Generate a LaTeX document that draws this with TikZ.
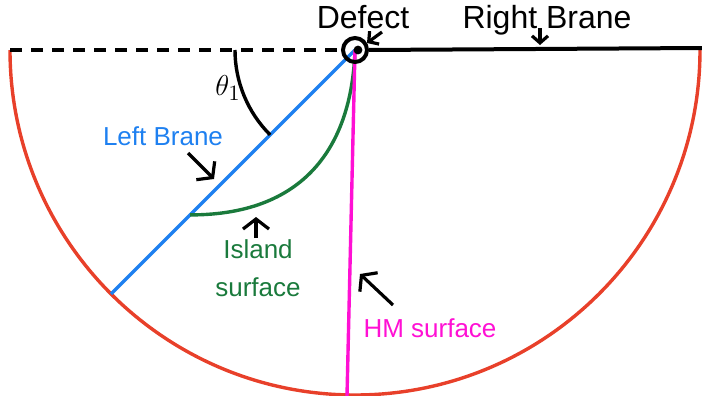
\documentclass[tikz,border=0pt]{standalone}
\usepackage{fontspec}
\setmainfont{Liberation Sans}
\usetikzlibrary{arrows.meta, calc}
\definecolor{BoundaryRed}{HTML}{E8402A}
\definecolor{BraneBlue}{HTML}{1E80F0}
\definecolor{IslandGreen}{HTML}{1A7A3C}
\definecolor{HMMagenta}{HTML}{FF10D4}

\begin{document}
\begin{tikzpicture}[x=0.5pt, y=0.5pt, line width=1.7pt,
    pointer/.style={-{Straight Barb[length=5pt, width=13pt]}, line width=1.6pt, black},
    smallpointer/.style={-{Straight Barb[length=3.5pt, width=8pt]}, line width=1.6pt, black},
    biglabel/.style={font=\fontsize{16}{19}\selectfont, anchor=base},
    smalllabel/.style={font=\fontsize{13}{19}\selectfont, anchor=base, align=center}]

    \useasboundingbox (0,0) rectangle (702,-396);

    % Points
    \coordinate (defect) at (355,-50);
    \coordinate (dashend) at (10,-50);
    \coordinate (rightend) at (702,-48);
    \coordinate (lbend) at ($(defect)+(225:345)$);
    \coordinate (foot) at ($(defect)!0.676!(lbend)$);
    \coordinate (hmend) at (347,-396);
    \coordinate (arcstart) at ($(defect)+(180:120)$);

    % Boundary, branes and surfaces
    \draw[BoundaryRed] (dashend) arc[start angle=180, end angle=360, radius=345];
    \draw[BraneBlue] (defect) -- (lbend);
    \draw[IslandGreen] (foot) .. controls (310,-215) and (352,-140) .. (defect);
    \draw[HMMagenta] (defect) -- (hmend);
    \draw (arcstart) arc[start angle=180, end angle=225, radius=120];

    % Defect
    \node[circle, draw, line width=2pt, minimum size=12pt, inner sep=0pt] (dc) at (defect) {};
    \fill (358,-50) circle[radius=2.2pt];
    \draw[line width=2pt, dash pattern=on 6pt off 4.5pt] (dashend) -- (dc.west);
    \draw[line width=2pt] (dc.east) -- (rightend);

    % Labels
    \node[biglabel] (deflabel) at (363,-28) {Defect};
    \node[biglabel] (rblabel) at (547,-28) {Right Brane};
    \node[smalllabel, text=BraneBlue] (lblabel) at (163,-145) {Left Brane};
    \node[smalllabel, text=IslandGreen] (islabel) at (258,-296) {Island\\surface};
    \node[smalllabel, text=HMMagenta] (hmlabel) at (430,-337) {HM surface};
    \node (thlabel) at (228,-88) {\fontsize{15}{15}\selectfont$\theta_1$};

    % Pointers
    \coordinate (deftail) at (382,-32);
    \coordinate (deftip) at (367,-43);
    \coordinate (rbtail) at (540,-28);
    \coordinate (rbtip) at (540,-45);
    \coordinate (lbtail) at (188,-153);
    \coordinate (lbtip) at (214,-179);
    \coordinate (istail) at (256,-238);
    \coordinate (istip) at (256,-217);
    \coordinate (hmtail) at (393,-305);
    \coordinate (hmtip) at (360,-274);
    \draw[smallpointer] (deftail) -- (deftip);
    \draw[smallpointer] (rbtail) -- (rbtip);
    \draw[pointer] (lbtail) -- (lbtip);
    \draw[pointer] (istail) -- (istip);
    \draw[pointer] (hmtail) -- (hmtip);
\end{tikzpicture}
\end{document}
